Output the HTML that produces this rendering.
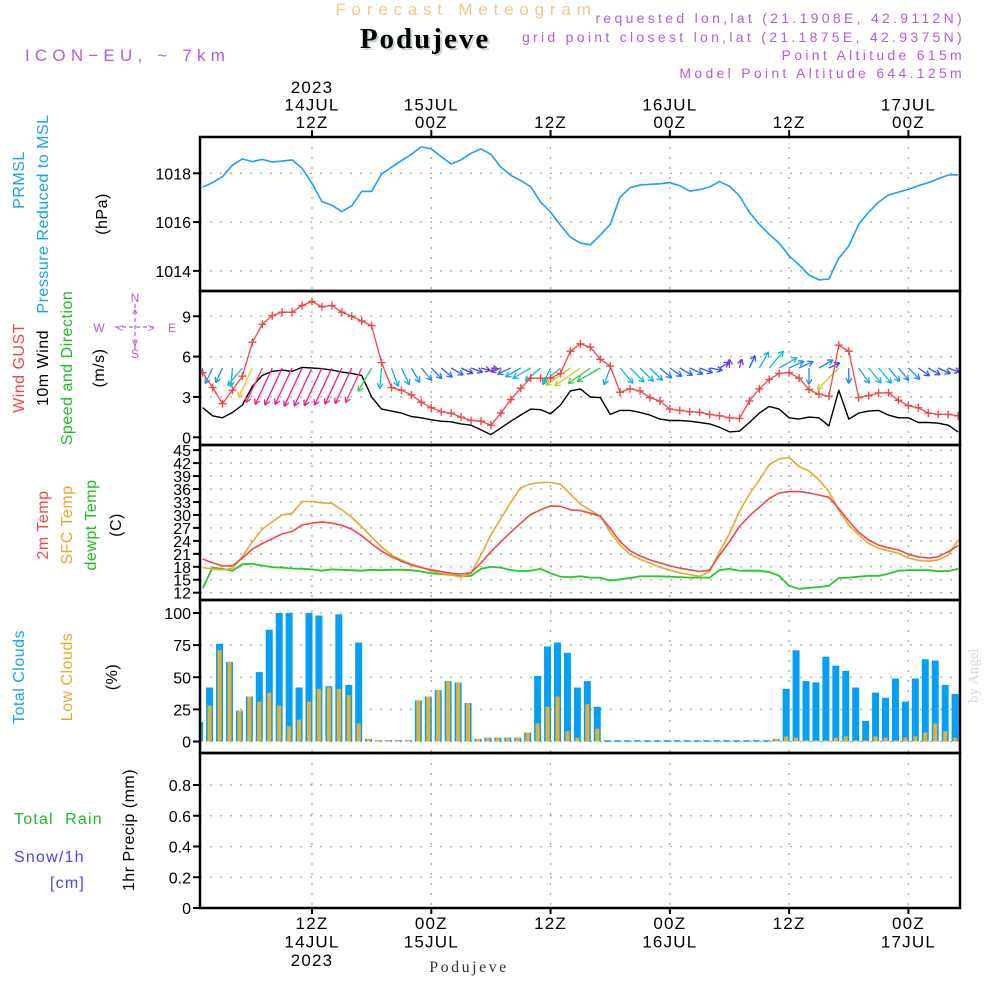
<!DOCTYPE html>
<html><head><meta charset="utf-8"><style>
html,body{margin:0;padding:0;background:#fff;width:1000px;height:1000px;overflow:hidden}
svg{display:block}
text{font-family:"Liberation Sans",sans-serif}
.t{font-size:16px;letter-spacing:1px;fill:#000}
.p{fill:#b05de0;font-size:14px;letter-spacing:3.3px}
</style></head><body>
<svg id="chart" width="1000" height="1000" viewBox="0 0 1000 1000">
<defs><clipPath id="clipP"><rect x="200" y="137" width="760" height="771"/></clipPath></defs>
<text x="466" y="15" text-anchor="middle" fill="#f0c890" style="font-size:17px;letter-spacing:5.8px">Forecast Meteogram</text>
<text x="427" y="50" text-anchor="middle" fill="#c8d8c8" style="font-family:'Liberation Serif',serif;font-size:29px;font-weight:bold;letter-spacing:2px">Podujeve</text>
<text x="425" y="48" text-anchor="middle" fill="#000" style="font-family:'Liberation Serif',serif;font-size:29px;font-weight:bold;letter-spacing:2px">Podujeve</text>
<text x="25" y="61" class="p" style="font-size:17px;letter-spacing:5.2px">ICON−EU, ~ 7km</text>
<text x="965" y="23" text-anchor="end" class="p">requested lon,lat (21.1908E, 42.9112N)</text>
<text x="965" y="42" text-anchor="end" class="p">grid point closest lon,lat (21.1875E, 42.9375N)</text>
<text x="965" y="60" text-anchor="end" class="p">Point Altitude 615m</text>
<text x="965" y="78" text-anchor="end" class="p">Model Point Altitude 644.125m</text>
<text x="970" y="695" transform="rotate(-90 978 695)" fill="#d8d8d8" style="font-family:'Liberation Serif',serif;font-size:15px">by Angel</text>
<g id="g"></g>
</svg>
<script>
// ---- data (hourly, h = hours since 14JUL 00Z, first value h=1) ----
const startHour = 1;
const pressure = [1017.43,1017.62,1017.86,1018.34,1018.59,1018.48,1018.57,1018.46,1018.5,1018.55,1018.2,1017.59,1016.84,1016.69,1016.43,1016.67,1017.26,1017.26,1017.97,1018.25,1018.52,1018.78,1019.08,1019.0,1018.68,1018.38,1018.55,1018.82,1019.0,1018.78,1018.25,1017.92,1017.7,1017.45,1016.82,1016.41,1015.87,1015.38,1015.14,1015.07,1015.47,1015.91,1017.02,1017.41,1017.52,1017.55,1017.57,1017.62,1017.49,1017.27,1017.33,1017.44,1017.66,1017.47,1017.08,1016.4,1015.91,1015.5,1015.14,1014.62,1014.24,1013.83,1013.63,1013.67,1014.52,1015.02,1015.91,1016.4,1016.82,1017.11,1017.23,1017.34,1017.49,1017.62,1017.77,1017.93,1017.94];
const gust = [4.8,3.7,2.5,3.5,4.55,7.06,8.4,9.05,9.3,9.3,9.8,10.1,9.7,9.8,9.3,9.0,8.65,8.3,5.55,3.7,3.5,3.15,2.6,2.2,1.9,1.8,1.5,1.25,1.2,0.9,1.8,2.8,3.65,4.4,4.4,4.4,4.75,6.4,6.95,6.7,5.8,5.3,3.35,3.6,3.45,2.95,2.7,2.1,2.0,1.9,1.85,1.7,1.6,1.45,1.4,2.7,3.6,4.3,4.75,4.8,4.4,3.55,3.2,3.05,6.85,6.4,2.95,3.1,3.3,3.3,2.75,2.35,2.2,1.8,1.7,1.7,1.6];
const wind10 = [2.2,1.6,1.45,1.85,2.4,3.8,4.6,4.9,5.0,4.9,5.2,5.15,5.1,5.0,4.85,4.75,4.6,3.0,2.1,1.95,1.8,1.55,1.45,1.3,1.2,1.15,1.0,0.9,0.55,0.2,0.7,1.2,1.65,2.1,2.05,1.75,2.4,3.45,3.6,3.0,2.95,1.7,2.0,2.0,1.85,1.65,1.35,1.25,1.25,1.2,1.1,1.0,0.75,0.4,0.45,1.1,1.8,2.3,2.1,1.45,1.35,1.5,1.45,0.85,3.5,1.35,1.8,1.95,2.0,1.65,1.45,1.45,1.1,1.1,1.05,0.9,0.4];
const windFrom = [20,25,25,5,40,25,25,25,25,25,25,25,25,25,25,25,25,30,5,340,335,330,320,315,310,300,295,290,285,280,70,65,60,60,50,25,50,55,55,55,60,20,320,315,315,315,310,305,300,295,290,280,240,180,195,205,210,220,240,245,245,0,240,245,45,0,325,320,320,320,320,315,305,300,295,290,290];
const temp2m = [19.8,18.9,18.2,18.2,20.0,22.1,23.4,24.5,25.6,26.2,27.7,28.1,28.4,28.1,27.6,26.7,25.2,23.3,21.6,20.3,19.3,18.4,17.8,17.3,16.9,16.5,16.3,16.6,18.9,21.5,23.8,26.0,28.1,30.1,31.2,32.1,32.0,31.2,31.0,30.4,29.7,26.9,23.8,21.7,20.5,19.6,18.9,18.2,17.7,17.3,16.9,17.2,20.7,23.8,27.3,29.8,31.8,33.8,35.1,35.4,35.4,35.1,34.6,34.1,31.5,28.6,26.0,24.2,23.0,22.4,21.9,20.9,20.3,20.0,20.3,21.5,22.9];
const tempSfc = [17.8,17.5,17.3,17.6,20.4,23.8,26.7,28.4,30.0,30.4,33.1,33.1,32.8,32.7,31.2,29.4,27.3,24.9,22.6,20.7,19.6,18.6,17.9,17.0,16.5,16.1,15.6,16.5,20.7,25.4,29.2,32.9,36.3,37.2,37.5,37.5,37.1,34.8,32.5,31.1,29.7,26.0,23.0,20.9,19.7,18.8,17.9,17.2,16.6,16.2,15.8,16.9,21.5,25.7,30.8,34.8,38.1,41.6,43.0,43.3,41.2,40.2,38.1,35.4,31.1,27.7,25.4,23.4,22.3,21.7,21.1,20.0,19.5,19.3,19.6,20.7,24.2];
const dewpt = [13.0,17.8,17.5,17.1,18.6,18.7,18.3,17.9,17.8,17.6,17.5,17.4,17.1,17.4,17.3,17.2,17.1,17.3,17.2,17.3,17.3,17.2,16.9,16.5,16.3,16.1,15.8,15.9,17.5,18.0,17.8,17.2,17.0,17.1,17.5,16.5,15.7,15.6,15.8,15.5,15.5,14.8,15.1,15.4,15.8,15.8,15.8,15.7,15.6,15.5,15.5,15.5,17.2,17.5,17.1,17.1,17.1,16.8,15.9,13.6,12.9,13.1,13.3,13.6,15.4,15.5,15.7,15.9,15.9,16.4,17.1,17.2,17.2,17.2,17.0,17.0,17.5];
const totalClouds = [15,42,76,62,24,35,54,87,100,100,42,100,98,43,99,44,77,2,1,1,1,1,32,35,40,47,46,30,2,3,3,3,3,7,51,74,77,69,42,47,27,1,1,1,1,1,1,1,1,1,1,1,1,1,1,1,1,1,2,41,71,47,46,66,59,55,42,16,38,34,49,31,49,64,63,44,37];
const lowClouds = [11,28,71,62,24,35,31,38,28,12,17,31,41,42,41,36,14,2,1,1,1,1,32,35,40,47,46,30,2,3,3,3,3,7,14,27,35,8,3,29,10,0,0,0,0,0,0,0,0,0,0,0,0,0,0,0,0,0,2,4,3,1,1,1,3,4,1,1,4,3,1,3,4,7,14,8,3];
const precip = new Array(77).fill(0);
const pTicks = [1018,1016,1014];
const wTicks = [9,6,3,0];
const tTicks = [45,42,39,36,33,30,27,24,21,18,15,12];
const cTicks = [100,75,50,25,0];
const rTicks = [0.8,0.6,0.4,0.2,0];
const timeTicks = [12,24,36,48,60,72];
const topLabels = [["2023","14JUL","12Z"],["","15JUL","00Z"],["","","12Z"],["","16JUL","00Z"],["","","12Z"],["","17JUL","00Z"]];
const botLabels = [["12Z","14JUL","2023"],["00Z","15JUL",""],["12Z","",""],["00Z","16JUL",""],["12Z","",""],["00Z","17JUL",""]];

// ---- layout ----
const NS="http://www.w3.org/2000/svg";
const G0=document.getElementById('g');
const L=200,R=960;
const X=h=>312+(h-12)*9.94;
const yP=v=>173.3+(1018-v)*24.4;
const yW=v=>437.3-v*13.45;
const yT=v=>592.7-(v-12)*4.32;
const yC=v=>741.5-v*1.285;
const yR=v=>908-v*153.75;
function el(tag,a,parent){const e=document.createElementNS(NS,tag);for(const k in a)e.setAttribute(k,a[k]);(parent||G0).appendChild(e);return e;}
const G=el('g',{'clip-path':'url(#clipP)'},G0);


function txt(x,y,s,a){const e=el('text',Object.assign({x:x,y:y},a||{}),G0);e.textContent=s;return e;}
const panels=[[137,291,'pressure'],[291,445,'wind'],[445,600,'temperature'],[600,753,'clouds'],[753,908,'precip']];

function hgrid(y,name){const e=el('line',{x1:L,x2:R,y1:y,y2:y,stroke:'#aaa','stroke-width':1.3,'stroke-dasharray':'2 8'},G);

}
function ytick(y,label,name){const e=el('line',{x1:L-7,x2:L,y1:y,y2:y,stroke:'#000','stroke-width':2},G0);


const t=txt(L-9,y+6,label,{'text-anchor':'end',class:'t',style:'font-size:16px;letter-spacing:0'});

}
pTicks.forEach(v=>{hgrid(yP(v),'pressure-gridline');ytick(yP(v),String(v),'pressure-y');});
wTicks.forEach(v=>{hgrid(yW(v),'wind-gridline');ytick(yW(v),String(v),'wind-y');});
tTicks.forEach(v=>{hgrid(yT(v),'temp-gridline');ytick(yT(v),String(v),'temp-y');});
cTicks.forEach(v=>{hgrid(yC(v),'cloud-gridline');ytick(yC(v),String(v),'cloud-y');});
rTicks.forEach(v=>{hgrid(yR(v),'precip-gridline');ytick(yR(v),v===0?'0':v.toFixed(1),'precip-y');});
panels.forEach(p=>{timeTicks.forEach(h=>{const e=el('line',{x1:X(h),x2:X(h),y1:p[0],y2:p[1],stroke:'#aaa','stroke-width':1.3,'stroke-dasharray':'2 8'},G);

});});

// clouds
totalClouds.forEach((v,i)=>{const h=startHour+i;const cx=X(h)-3;
const b=el('rect',{x:cx-3.5,y:yC(v),width:7,height:Math.max(yC(0)-yC(v),0.8),fill:'#05a0f5'},G);


const o=lowClouds[i];
const c=el('rect',{x:cx-2,y:yC(o),width:4,height:Math.max(yC(0)-yC(o),0.8),fill:'#e8b030'},G);

});
precip.forEach((v,i)=>{if(v>0){const b=el('rect',{x:X(startHour+i)-3,y:yR(v),width:6,height:yR(0)-yR(v),fill:'#2b2'},G);

}});

function line(arr,yf,color,name,w){const pts=arr.map((v,i)=>X(startHour+i).toFixed(1)+','+yf(v).toFixed(1)).join(' ');
const e=el('polyline',{points:pts,fill:'none',stroke:color,'stroke-width':w||1.5,'stroke-linejoin':'round'},G);

return e;}
line(pressure,yP,'#1aa0f5','pressure-line',1.6);
line(dewpt,yT,'#22cc22','dewpoint-line',1.8);
line(tempSfc,yT,'#e8a830','sfc-temp-line',1.6);
line(temp2m,yT,'#f04848','temp-2m-line',1.6);
line(wind10,yW,'#000','wind-10m-line',1.4);

// wind arrows
function spdColor(s){const stops=[[0.3,[150,40,230]],[1.0,[40,80,245]],[1.7,[20,170,245]],[2.3,[10,200,200]],[2.9,[30,200,90]],[3.3,[150,220,40]],[3.8,[240,200,30]],[4.4,[240,80,80]],[4.8,[230,30,150]]];
if(s<=stops[0][0])return 'rgb('+stops[0][1]+')';for(let i=1;i<stops.length;i++){if(s<=stops[i][0]){const a=stops[i-1],b=stops[i],f=(s-a[0])/(b[0]-a[0]);return 'rgb('+a[1].map((c,k)=>Math.round(c+(b[1][k]-c)*f)).join(',')+')';}}return 'rgb('+stops[stops.length-1][1]+')';}
windFrom.forEach((d,i)=>{const h=startHour+i,s=wind10[i];const to=(d+180)*Math.PI/180;const len=6+7*s;
const x0=X(h),y0=368,x1=x0+Math.sin(to)*len,y1=y0-Math.cos(to)*len;const col=spdColor(s);
const g=el('g',{stroke:col,'stroke-width':1.3,fill:'none'},G);


el('line',{x1:x0,y1:y0,x2:x1,y2:y1},g);
const ang=Math.atan2(y1-y0,x1-x0);[0.5,-0.5].forEach(o=>{el('line',{x1:x1,y1:y1,x2:x1-6*Math.cos(ang+o),y2:y1-6*Math.sin(ang+o)},g);});});

// gust line with markers
line(gust,yW,'#f04848','gust-line',1.3);
gust.forEach((v,i)=>{const x=X(startHour+i),y=yW(v);const g=el('g',{stroke:'#f04848','stroke-width':1.4},G);


el('line',{x1:x-4,x2:x+4,y1:y,y2:y},g);el('line',{x1:x,x2:x,y1:y-4,y2:y+4},g);});

// frames
panels.forEach(p=>{const e=el('rect',{x:L,y:p[0],width:R-L,height:p[1]-p[0],fill:'none',stroke:'#000','stroke-width':2.5},G0);

});
timeTicks.forEach((h,i)=>{const tk=el('line',{x1:X(h),x2:X(h),y1:130,y2:137,stroke:'#000','stroke-width':2},G0);


const bk=el('line',{x1:X(h),x2:X(h),y1:908,y2:914,stroke:'#000','stroke-width':2},G0);


topLabels[i].forEach((s,k)=>{if(s){const t=txt(X(h),93+k*17.5,s,{'text-anchor':'middle',class:'t',style:'font-size:17px;letter-spacing:1.2px'});

}});
botLabels[i].forEach((s,k)=>{if(s){const t=txt(X(h),929+k*18.5,s,{'text-anchor':'middle',class:'t',style:'font-size:17px;letter-spacing:1.2px'});

}});});

// rotated left labels
function vlab(x,y,parts,name){const t=el('text',{x:0,y:0,transform:'translate('+x+','+y+') rotate(-90)','text-anchor':'middle',style:'font-size:16px;letter-spacing:0.5px'},G0);


parts.forEach(p=>{const s=el('tspan',{fill:p[1]},t);s.textContent=p[0];});}
vlab(24,180,[['PRMSL','#1aa0f5']],'prmsl-label');
vlab(48,214,[['Pressure Reduced to MSL','#1aa0f5']],'pressure-label');
vlab(107,214,[['(hPa)','#000']],'hpa-unit');
vlab(24,368,[['Wind ','#f04848'],['GUST','#f04848']],'wind-gust-label');
vlab(48,368,[['10m Wind','#000']],'wind10-label');
vlab(72,368,[['Speed and Direction','#22bb22']],'speed-direction-label');
vlab(104,368,[['(m/s)','#000']],'ms-unit');
vlab(48,525,[['2m Temp','#f04848']],'temp2m-label');
vlab(72,525,[['SFC Temp','#e8a830']],'sfc-temp-label');
vlab(96,525,[['dewpt Temp','#22bb22']],'dewpt-label');
vlab(121,525,[['(C)','#000']],'c-unit');
vlab(24,677,[['Total Clouds','#1aa0f5']],'total-clouds-label');
vlab(72,677,[['Low Clouds','#e8a830']],'low-clouds-label');
vlab(117,677,[['(%)','#000']],'pct-unit');
vlab(134,830,[['1hr Precip (mm)','#000']],'precip-unit');
let t1=txt(14,824,'Total  Rain',{fill:'#22bb22',style:'font-size:16px;letter-spacing:1.2px;white-space:pre'});


let t2=txt(14,862,'Snow/1h',{fill:'#4848f0',style:'font-size:16px;letter-spacing:1.2px'});


let t3=txt(50,888,'[cm]',{fill:'#4848f0',style:'font-size:16px;letter-spacing:1.2px'});


let t4=txt(469,972,'Podujeve',{'text-anchor':'middle',fill:'#333',style:"font-family:'Liberation Serif',serif;font-size:16px;letter-spacing:2.5px"});



// compass
const cg=el('g',{stroke:'#b05de0','stroke-width':1.2,fill:'none','stroke-dasharray':'4 3'},G0);


el('line',{x1:115,x2:155,y1:327,y2:327},cg);el('line',{x1:135,x2:135,y1:304,y2:350},cg);
[['N',135,302],['S',135,358],['W',99,332],['E',172,332],['<',120,332],['>',151,332],['^',135,318],['v',135,346]].forEach(a=>{const t=txt(a[1],a[2],a[0],{'text-anchor':'middle',fill:'#b05de0',style:'font-size:12px'});

});
</script>
</body></html>
